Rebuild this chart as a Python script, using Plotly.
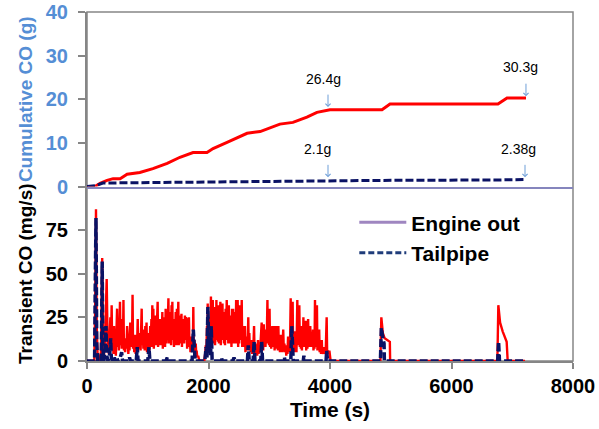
import plotly.graph_objects as go
from plotly.subplots import make_subplots

# cumulative CO (g)
cum_eo_t = [0, 130, 215, 330, 430, 545, 660, 870, 1085, 1320, 1530, 1745, 1975, 2075, 2305,
            2635, 2850, 3175, 3390, 3620, 3785, 4000, 4856, 4988, 6765, 6914, 7226]
cum_eo_v = [0, 0, 0.7, 1.4, 1.8, 1.8, 2.8, 3.2, 4.1, 5.3, 6.7, 7.8, 7.8, 8.7, 10.1,
            12.2, 12.6, 14.3, 14.7, 15.9, 17.0, 17.6, 17.6, 18.9, 18.9, 20.3, 20.3]
cum_tp_t = [0, 150, 260, 1000, 2000, 3000, 4000, 4880, 6780, 7226]
cum_tp_v = [0, 0.2, 0.8, 0.9, 1.1, 1.2, 1.3, 1.4, 1.5, 1.6]

# transient CO (mg/s), engine out: (time s, value)
engine_out = [
    (0, 0), (120, 0), (135, 30), (148, 87), (160, 20), (175, 2), (200, 0), (230, 5), (250, 59),
    (265, 10), (280, 3), (300, 15), (324, 47), (340, 8), (360, 4), (385, 25), (395, 8),
    (406, 32), (415, 6), (425, 14), (435, 4), (445, 20), (455, 7), (465, 12), (475, 3), (485, 18),
    (495, 30), (505, 8), (515, 22), (525, 6), (535, 20), (543, 34), (552, 9), (562, 16), (572, 7),
    (582, 24), (592, 10), (600, 35), (608, 6), (618, 13), (628, 5), (640, 12), (650, 7), (660, 20),
    (670, 14), (680, 4), (690, 10), (700, 6), (712, 22), (722, 8), (732, 20), (740, 9), (750, 38),
    (758, 7), (768, 12), (778, 5), (790, 15), (800, 4), (812, 10), (822, 6), (835, 24), (843, 7),
    (853, 16), (862, 8), (872, 12), (882, 6), (890, 22), (900, 30), (908, 9), (918, 18), (928, 7),
    (940, 14), (950, 6), (960, 20), (970, 8), (980, 22), (988, 5), (998, 16), (1008, 9), (1018, 12),
    (1028, 6), (1040, 20), (1050, 9), (1060, 24), (1068, 8), (1075, 32), (1083, 10), (1092, 30),
    (1100, 7), (1110, 18), (1120, 11), (1130, 26), (1140, 9), (1150, 25), (1163, 34), (1170, 8),
    (1180, 20), (1190, 10), (1200, 24), (1210, 9), (1220, 18), (1230, 11), (1240, 28), (1248, 7),
    (1258, 25), (1266, 10), (1275, 22), (1285, 8), (1295, 30), (1305, 10), (1315, 20), (1325, 12),
    (1340, 36), (1348, 10), (1358, 26), (1366, 12), (1375, 28), (1384, 9), (1392, 32), (1400, 12),
    (1405, 34), (1412, 12), (1422, 22), (1432, 8), (1440, 24), (1448, 10), (1460, 28), (1470, 9),
    (1480, 30), (1490, 12), (1503, 34), (1510, 9), (1520, 20), (1528, 12), (1535, 26), (1545, 10),
    (1555, 27), (1563, 8), (1573, 24), (1582, 11), (1590, 22), (1600, 10), (1612, 26), (1620, 12),
    (1628, 25), (1640, 24), (1648, 7), (1658, 15), (1668, 8), (1678, 25), (1686, 10), (1695, 12),
    (1703, 5), (1712, 14), (1722, 6), (1735, 12), (1743, 8), (1750, 31), (1758, 6), (1768, 12),
    (1778, 5), (1790, 10), (1798, 4), (1805, 6), (1815, 2), (1830, 3), (1850, 0),
    (1930, 0), (1945, 4), (1955, 9), (1965, 5), (1975, 20), (1982, 8), (1987, 33), (1995, 9),
    (2005, 25), (2013, 10), (2022, 22), (2030, 12), (2040, 37), (2048, 11), (2058, 28), (2065, 12),
    (2070, 35), (2078, 10), (2088, 30), (2095, 14), (2100, 31), (2108, 9), (2118, 26), (2124, 12),
    (2130, 35), (2138, 14), (2148, 28), (2156, 11), (2165, 32), (2172, 10), (2180, 24), (2188, 12),
    (2195, 34), (2203, 9), (2212, 26), (2220, 12), (2230, 33), (2238, 12), (2248, 22), (2256, 10),
    (2265, 28), (2272, 9), (2282, 30), (2290, 12), (2300, 35), (2308, 14), (2318, 26), (2326, 10),
    (2335, 32), (2343, 10), (2352, 24), (2360, 12), (2370, 26), (2378, 8), (2388, 30), (2396, 12),
    (2405, 30), (2413, 10), (2422, 22), (2430, 12), (2440, 28), (2447, 10), (2455, 35), (2463, 10),
    (2472, 24), (2480, 35), (2488, 8), (2498, 26), (2505, 10), (2512, 32), (2520, 14), (2530, 22),
    (2538, 12), (2547, 35), (2555, 8), (2565, 20), (2573, 10), (2582, 18), (2592, 8), (2600, 20),
    (2608, 5), (2618, 12), (2626, 6), (2636, 14), (2645, 8), (2655, 25), (2662, 6), (2672, 16),
    (2680, 7), (2690, 12), (2698, 5), (2710, 9), (2718, 4), (2728, 12), (2736, 5), (2750, 20),
    (2758, 4), (2770, 10), (2780, 4), (2792, 8), (2802, 3), (2815, 12), (2825, 4), (2840, 10),
    (2850, 6), (2862, 16), (2875, 22), (2883, 6), (2893, 14), (2900, 6), (2910, 21), (2918, 8),
    (2928, 14), (2938, 8), (2950, 18), (2958, 10), (2970, 35), (2978, 10), (2988, 26), (2996, 9),
    (3005, 30), (3013, 8), (3023, 18), (3032, 7), (3042, 15), (3050, 20), (3058, 8), (3068, 14),
    (3080, 20), (3088, 6), (3098, 16), (3106, 7), (3115, 20), (3123, 8), (3133, 14), (3142, 6),
    (3150, 20), (3158, 7), (3168, 12), (3176, 5), (3190, 15), (3198, 6), (3208, 12), (3216, 5),
    (3230, 18), (3238, 8), (3250, 10), (3258, 5), (3270, 9), (3280, 3), (3292, 8), (3300, 4),
    (3310, 14), (3320, 5), (3330, 10), (3340, 5), (3353, 36), (3360, 8), (3370, 20), (3378, 9),
    (3385, 34), (3393, 6), (3403, 14), (3411, 5), (3420, 17), (3430, 6), (3440, 12), (3448, 5),
    (3462, 35), (3470, 10), (3480, 22), (3488, 9), (3495, 32), (3503, 8), (3513, 16), (3521, 7),
    (3530, 20), (3538, 6), (3548, 18), (3555, 8), (3562, 25), (3570, 10), (3580, 16), (3590, 8),
    (3600, 23), (3608, 6), (3618, 14), (3628, 7), (3640, 24), (3648, 9), (3658, 18), (3666, 8),
    (3675, 20), (3683, 8), (3693, 16), (3700, 8), (3710, 14), (3720, 18), (3728, 6), (3738, 12),
    (3745, 7), (3753, 35), (3760, 10), (3770, 20), (3778, 8), (3785, 32), (3793, 6), (3803, 14),
    (3812, 6), (3822, 18), (3830, 5), (3842, 10), (3852, 4), (3865, 12), (3873, 4), (3885, 8),
    (3895, 4), (3905, 8), (3915, 4), (3930, 6), (3945, 25), (3953, 5), (3965, 6), (3975, 4),
    (3990, 6), (4000, 4), (4010, 0),
    (4830, 0), (4845, 25), (4870, 16), (4900, 13), (4985, 11), (4990, 0),
    (6755, 0), (6771, 32), (6800, 22), (6842, 17), (6908, 11), (6925, 0), (7210, 0),
]

# transient CO (mg/s), tailpipe: (time s, value)
tailpipe = [
    (0, 0), (125, 0), (135, 40), (148, 82), (160, 10), (175, 0), (235, 0), (245, 40), (250, 57),
    (260, 8), (275, 0), (295, 5), (312, 20), (325, 3), (345, 0), (375, 4), (390, 13), (400, 2),
    (420, 0), (450, 2), (470, 0), (540, 1), (570, 5), (585, 0), (680, 0), (700, 2), (715, 0),
    (810, 0), (828, 8), (840, 0), (1000, 0), (1020, 8), (1035, 0), (1300, 0), (1320, 2), (1335, 0),
    (1730, 0), (1750, 18), (1765, 2), (1780, 0), (1940, 0), (1960, 8), (1975, 2), (1990, 31),
    (2005, 5), (2020, 14), (2035, 3), (2045, 20), (2060, 0), (2200, 0), (2215, 2), (2225, 0),
    (2400, 0), (2420, 2), (2435, 0), (2640, 0), (2655, 9), (2670, 0), (2735, 0), (2750, 11),
    (2765, 0), (2860, 0), (2875, 11), (2890, 0), (3240, 0), (3250, 2), (3260, 0), (3355, 0),
    (3370, 20), (3385, 3), (3395, 0), (3560, 0), (3570, 3), (3580, 0), (3935, 0), (3945, 6),
    (3960, 0), (4830, 0), (4845, 19), (4870, 13), (4890, 10), (4895, 0), (6760, 0), (6775, 11),
    (6790, 0), (7210, 0),
]

x_ticks = [0, 2000, 4000, 6000, 8000]
y_ticks_top = [0, 10, 20, 30, 40]
y_ticks_bottom = [0, 25, 50, 75]

# labels: text, x, y of text, arrow head
labels = ['26.4g', '30.3g', '2.1g', '2.38g']
label_x = [3885, 7128, 3802, 7111]
label_y = [24.6, 27.4, 8.5, 8.5]
arrow_x = [3967, 7226, 3967, 7210]
arrow_y = [18.2, 20.7, 2.1, 2.1]

RED = '#ff0000'
NAVY = '#0a1264'
GREY = '#868686'
LBLUE = '#558ed5'
FONT = 'Liberation Sans'

eo_t = [p[0] for p in engine_out]
eo_v = [p[1] for p in engine_out]
tp_t = [p[0] for p in tailpipe]
tp_v = [p[1] for p in tailpipe]

fig = make_subplots(rows=2, cols=1, shared_xaxes=True, vertical_spacing=0)

fig.add_trace(go.Scatter(x=cum_eo_t, y=cum_eo_v, mode='lines',
                         line=dict(color=RED, width=3), showlegend=False), row=1, col=1)
fig.add_trace(go.Scatter(x=cum_tp_t, y=cum_tp_v, mode='lines',
                         line=dict(color=NAVY, width=3, dash='8px,3px'), showlegend=False), row=1, col=1)

fig.add_trace(go.Scatter(x=eo_t, y=eo_v, mode='lines',
                         line=dict(color=RED, width=2.4), showlegend=False), row=2, col=1)
fig.add_trace(go.Scatter(x=tp_t, y=tp_v, mode='lines',
                         line=dict(color=NAVY, width=3.5, dash='8px,3px'), showlegend=False), row=2, col=1)

# legend entries (colours as shown in the original legend)
fig.add_trace(go.Scatter(x=[None], y=[None], mode='lines', name='Engine out',
                         line=dict(color='#9f86c0', width=3)), row=2, col=1)
fig.add_trace(go.Scatter(x=[None], y=[None], mode='lines', name='Tailpipe',
                         line=dict(color='#1f3c7a', width=3, dash='6px,3px')), row=2, col=1)

for txt, lx, ly in zip(labels, label_x, label_y):
    fig.add_annotation(x=lx, y=ly, xref='x', yref='y', text=txt, showarrow=False,
                       font=dict(family=FONT, size=14, color='#000000'))
for axx, ayy in zip(arrow_x, arrow_y):
    fig.add_annotation(x=axx, y=ayy, xref='x', yref='y', text='', showarrow=True,
                       ax=0, ay=-14, arrowhead=4, arrowsize=1, arrowwidth=1,
                       arrowcolor='#6f9fd8')

fig.update_xaxes(range=[0, 8000], showgrid=False, zeroline=False, automargin=False)
fig.update_xaxes(row=1, col=1, showline=True, linecolor='#8585bd', linewidth=1.5,
                 ticks='', showticklabels=False)
fig.update_xaxes(row=2, col=1, showline=True, linecolor=GREY, linewidth=2,
                 ticks='outside', ticklen=6, tickcolor=GREY, tickwidth=1.5,
                 tickvals=x_ticks, layer='below traces',
                 tickfont=dict(family=FONT, size=20, weight='bold', color='#000000'),
                 title=dict(text='Time (s)', standoff=6,
                            font=dict(family=FONT, size=21, weight='bold', color='#000000')))

fig.update_yaxes(row=1, col=1, domain=[0.5, 1], range=[0, 40], tickvals=y_ticks_top,
                 showgrid=False, zeroline=False, showline=True, linecolor=GREY, linewidth=2,
                 ticks='outside', ticklen=7, tickcolor=GREY, tickwidth=1.5, ticklabelstandoff=6,
                 automargin=False,
                 tickfont=dict(family=FONT, size=20, weight='bold', color=LBLUE),
                 title=dict(text='Cumulative CO (g)', standoff=8,
                            font=dict(family=FONT, size=19, weight='bold', color=LBLUE)))
fig.update_yaxes(row=2, col=1, domain=[0, 0.5], range=[0, 100], tickvals=y_ticks_bottom,
                 showgrid=False, zeroline=False, showline=True, linecolor=GREY, linewidth=2,
                 ticks='outside', ticklen=7, tickcolor=GREY, tickwidth=1.5, ticklabelstandoff=6,
                 automargin=False,
                 tickfont=dict(family=FONT, size=20, weight='bold', color='#000000'),
                 title=dict(text='Transient CO (mg/s)', standoff=8,
                            font=dict(family=FONT, size=19, weight='bold', color='#000000')))

# outer frame
fig.add_shape(type='rect', xref='paper', yref='paper', x0=0, x1=1, y0=0, y1=1,
              line=dict(color=GREY, width=1.5), layer='below')

fig.update_layout(
    width=599, height=429,
    margin=dict(l=87, r=26, t=12, b=68),
    paper_bgcolor='white', plot_bgcolor='white',
    font=dict(family=FONT),
    legend=dict(x=0.55, y=0.455, xanchor='left', yanchor='top', bgcolor='rgba(0,0,0,0)',
                itemwidth=47, tracegroupgap=0,
                font=dict(family=FONT, size=21, weight='bold', color='#000000')),
)

# drop the browser's default 8px page margin so the figure sits at the window corner
fig.write_html('out.html', config={'displayModeBar': False},
               post_script="document.body.style.margin = '0';")
